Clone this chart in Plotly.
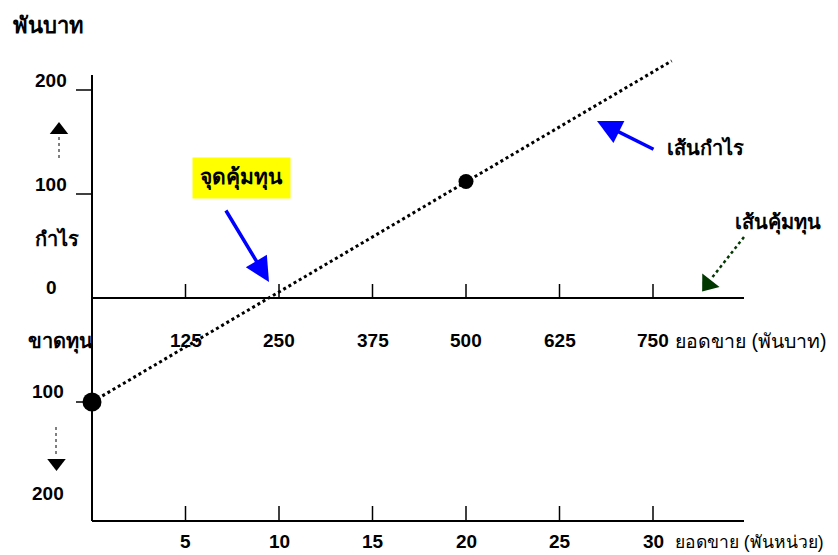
import plotly.graph_objects as go

# ---- data ----
unit_ticks = [5, 10, 15, 20, 25, 30]                 # thousand units
sales_ticks = [125, 250, 375, 500, 625, 750]         # thousand baht
profit_ticks = [200, 100]                            # profit side labels
loss_ticks = [100, 200]                              # loss side labels
line_units = [0, 20, 31]                             # profit line
line_profit = [-100, 112, 228]
dot_units = [0, 20]
dot_profit = [-100, 112]
price = 25                                           # baht per unit (sales = units * price)

# ---- screenshot pixel -> data helpers for layout placement ----
W, H = 838, 555
OFF = 8                      # page body margin
X0, KX = 92, 18.7
Y0, KY = 298, 1.04
def px(p):
    return (p - X0) / KX
def py(p):
    return (Y0 - p) / KY

FONT = "Arial, Liberation Sans, Tahoma, sans-serif"
NUM = 19
THAI = 20
fig = go.Figure()

# profit line
fig.add_trace(go.Scatter(x=line_units, y=line_profit, mode="lines",
                         line=dict(color="black", width=3, dash="dot"),
                         hoverinfo="skip", showlegend=False))
# dots
fig.add_trace(go.Scatter(x=dot_units, y=dot_profit, mode="markers",
                         marker=dict(color="black", size=[19, 15], opacity=1,
                                     line=dict(width=0)),
                         hoverinfo="skip", showlegend=False))

shapes = []
def seg(x0, y0, x1, y1, w=2, color="black", dash="solid"):
    shapes.append(dict(type="line", x0=x0, y0=y0, x1=x1, y1=y1, xref="x", yref="y",
                       line=dict(color=color, width=w, dash=dash), layer="above"))

x_end = px(744)
# vertical axis
seg(0, py(75), 0, py(521))
# zero line and bottom axis
seg(0, 0, x_end, 0)
seg(0, py(521), x_end, py(521))
# ticks on zero line and bottom axis
for u in unit_ticks:
    seg(u, 0, u, py(284), w=1.5)
    seg(u, py(521), u, py(506), w=1.5)
# y ticks
for v in [200, 100, -100]:
    seg(0, v, px(76), v, w=1.5)

# left dotted up / down arrows
seg(px(59), py(137), px(59), py(160), w=1, dash="dot")
seg(px(56), py(427), px(56), py(457), w=1, dash="dot")
# green dotted arrow shaft
seg(px(744), py(237), px(711), py(279), w=2.5, color="#003800", dash="dot")

# arrow heads as markers
fig.add_trace(go.Scatter(x=[px(59), px(56.5), px(708)], y=[py(130), py(463), py(284)],
                         mode="markers",
                         marker=dict(symbol="triangle-up", size=[16, 16, 19], opacity=1,
                                     angle=[0, 180, 218], color=["black", "black", "#003800"],
                                     line=dict(width=0)),
                         hoverinfo="skip", showlegend=False))

ann = []
def label(text, x, y, size=NUM, bold=True, xanchor="center", bg=None, color="black"):
    a = dict(text=("<b>%s</b>" % text) if bold else text, x=x, y=y, xref="x", yref="y",
             showarrow=False, xanchor=xanchor, yanchor="middle",
             font=dict(family=FONT, size=size, color=color))
    if bg:
        a.update(bgcolor=bg, borderpad=7)
    ann.append(a)

label("พันบาท", px(48), py(25), size=22)
for v, yp in zip(profit_ticks, [80, 184]):
    label(str(v), px(51), py(yp))
label("กำไร", px(57), py(238), size=THAI)
label("0", px(51), py(287))
label("ขาดทุน", px(60), py(342), size=THAI)
for v, yp in zip(loss_ticks, [391, 493]):
    label(str(v), px(48), py(yp))

for s in sales_ticks:
    label(str(s), s / price, py(340))
label("ยอดขาย (พันบาท)", px(673), py(341), bold=False, xanchor="left", size=19.5)
for u in unit_ticks:
    label(str(u), u, py(541))
label("ยอดขาย (พันหน่วย)", px(673), py(542), bold=False, xanchor="left", size=17.5)

label("จุดคุ้มทุน", px(241), py(178), size=21, bg="#ffff00")
label("เส้นกำไร", px(705), py(147), size=THAI)
label("เส้นคุ้มทุน", px(778), py(223), size=THAI)

# blue arrows
for tip, tail in [((269, 282), (225, 209)), ((597, 121), (655, 150))]:
    ann.append(dict(x=px(tip[0]), y=py(tip[1]), xref="x", yref="y", text="",
                    showarrow=True, ax=tail[0] - tip[0], ay=tail[1] - tip[1],
                    arrowhead=2, arrowsize=1.4, arrowwidth=3.5, arrowcolor="#0000ff",
                    standoff=0))

fig.update_layout(
    width=W, height=H, margin=dict(l=0, r=0, t=0, b=0),
    paper_bgcolor="white", plot_bgcolor="white",
    xaxis=dict(range=[px(OFF), px(OFF + W)], visible=False, fixedrange=True),
    yaxis=dict(range=[py(OFF + H), py(OFF)], visible=False, fixedrange=True),
    shapes=shapes, annotations=ann, showlegend=False,
)
fig.write_html("out.html")
